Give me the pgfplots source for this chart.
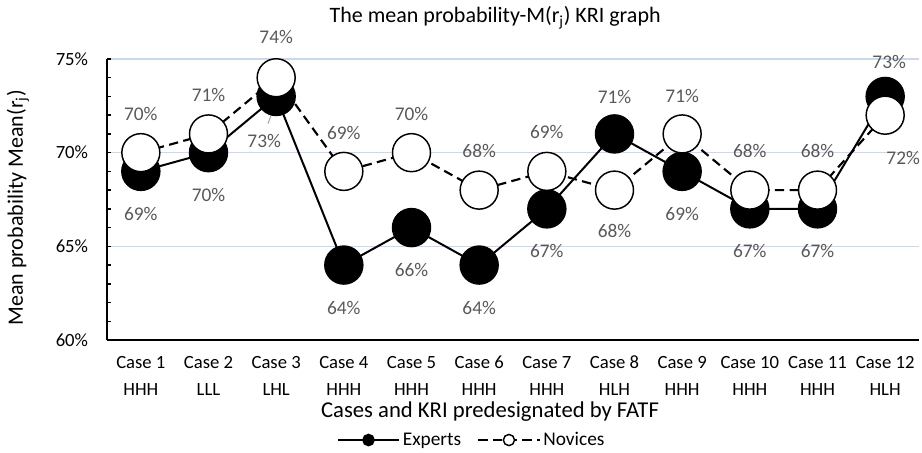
\documentclass[border=0pt]{standalone}
\usepackage{fontspec}
\setmainfont{Carlito}
\usepackage{pgfplots}
\usepackage{pgfplotstable}
\pgfplotsset{compat=1.18}

\definecolor{gridblue}{HTML}{C9D8EA}
\definecolor{gridfaint}{HTML}{EEF2F7}
\definecolor{labelgray}{HTML}{595959}
\definecolor{leadergray}{HTML}{A6A6A6}

% mean probability per case (%), with label offsets (dx, dy) in px
\pgfplotstableread{
x  exp  edx  edy    nov  ndx  ndy
0  69   0    -42.5  70   0    39
1  70   0    -42.5  71   0    39
2  73   -12  -45    74   0    41
3  64   0    -42.5  69   0    38
4  66   0    -42.5  70   0    39
5  64   0    -42.5  68   0    39
6  67   0    -42.5  69   0    39
7  71   0    37     68   0    -41
8  69   0    -42.5  71   0    38
9  67   0    -42.5  68   0    39
10 67   0    -42.5  68   0    39
11 73   4    34.5   72   18   -43
}\casedata

\begin{document}
\begin{tikzpicture}
\useasboundingbox (0pt,0pt) rectangle (691.5pt,339.75pt);
\begin{axis}[
  at={(80.25pt,84.75pt)}, anchor=south west,
  scale only axis, width=609pt, height=210.75pt,
  clip=false,
  xmin=-0.5, xmax=11.5, ymin=60, ymax=75,
  axis lines*=left,
  axis line style={-, black, line width=1.5pt},
  /pgf/number format/assume math mode=true,
  font=\fontsize{14}{16}\selectfont,
  xtick={0,...,11},
  xticklabels={{Case 1\\HHH},{Case 2\\LLL},{Case 3\\LHL},{Case 4\\HHH},{Case 5\\HHH},{Case 6\\HHH},{Case 7\\HHH},{Case 8\\HLH},{Case 9\\HHH},{Case 10\\HHH},{Case 11\\HHH},{Case 12\\HLH}},
  xticklabel style={align=center, anchor=center, yshift=-26.6pt, font=\fontsize{14}{20.25}\selectfont},
  x tick style={draw=none},
  ytick={60,65,70},
  yticklabels={60\%,65\%,70\%},
  extra y ticks={75},
  extra y tick labels={75\%},
  extra y tick style={grid style={gridfaint, line width=1.1pt}},
  minor ytick={61,62,63,64,66,67,68,69,71,72,73,74},
  yticklabel style={anchor=east, xshift=-10.7pt},
  y tick style={black, line width=1.1pt},
  tick align=inside,
  major tick length=3pt, minor tick length=3pt,
  ymajorgrids,
  major grid style={gridblue, line width=1.1pt},
  every axis title shift=0pt,
  title={The mean probability-M(r\textsubscript{j}) KRI graph},
  title style={at={(axis description cs:0.478,1.146)}, anchor=center, font=\fontsize{16.5}{18}\selectfont},
  xlabel={Cases and KRI predesignated by FATF},
  xlabel style={at={(axis description cs:0.4717,-0.256)}, anchor=center, font=\fontsize{17}{19}\selectfont},
  ylabel={Mean probability Mean(r\textsubscript{j})},
  ylabel style={at={(axis description cs:-0.1096,0.47)}, anchor=center, font=\fontsize{16.5}{18}\selectfont},
  legend columns=2,
  legend style={at={(axis description cs:0.4495,-0.356)}, anchor=center, draw=none, fill=none,
    font=\fontsize{14.5}{16}\selectfont,
    /tikz/every even column/.append style={column sep=10pt}},
  legend image code/.code={
    \draw[#1, mark=none] (0pt,0pt) -- (46pt,0pt);
    \draw[#1, solid, mark size=4.2pt] plot coordinates {(23pt,0pt)};
  },
  point meta=y,
  nodes near coords={\pgfmathprintnumber[fixed,precision=0]{\pgfplotspointmeta}\%},
  every node near coord/.append style={font=\fontsize{14.5}{16}\selectfont, text=labelgray,
    anchor=center, xshift=\ldx*0.75pt, yshift=\ldy*0.75pt},
]
\addplot[black, line width=1.5pt, mark=*, mark size=14.25pt,
  mark options={solid, fill=black, draw=black, line width=1.1pt},
  visualization depends on={\thisrow{edx} \as \ldx},
  visualization depends on={\thisrow{edy} \as \ldy}]
  table[x=x, y=exp] {\casedata};
\addlegendentry{Experts}

\addplot[black, line width=1.6pt, dash pattern=on 7pt off 4pt, mark=*, mark size=14.25pt,
  mark options={solid, fill=white, draw=black, line width=1.1pt},
  visualization depends on={\thisrow{ndx} \as \ldx},
  visualization depends on={\thisrow{ndy} \as \ldy}]
  table[x=x, y=nov] {\casedata};
\addlegendentry{Novices}

% leader lines of the moved labels
\draw[leadergray, line width=0.8pt] (axis cs:2.02,72.95) -- (axis cs:1.88,71.55);
\draw[leadergray, line width=0.8pt] (axis cs:7,72.0) -- (axis cs:7,71.1);
\draw[leadergray, line width=0.8pt] (axis cs:11.05,73.99) -- (axis cs:11.03,72.97);
\end{axis}
\end{tikzpicture}
\end{document}
